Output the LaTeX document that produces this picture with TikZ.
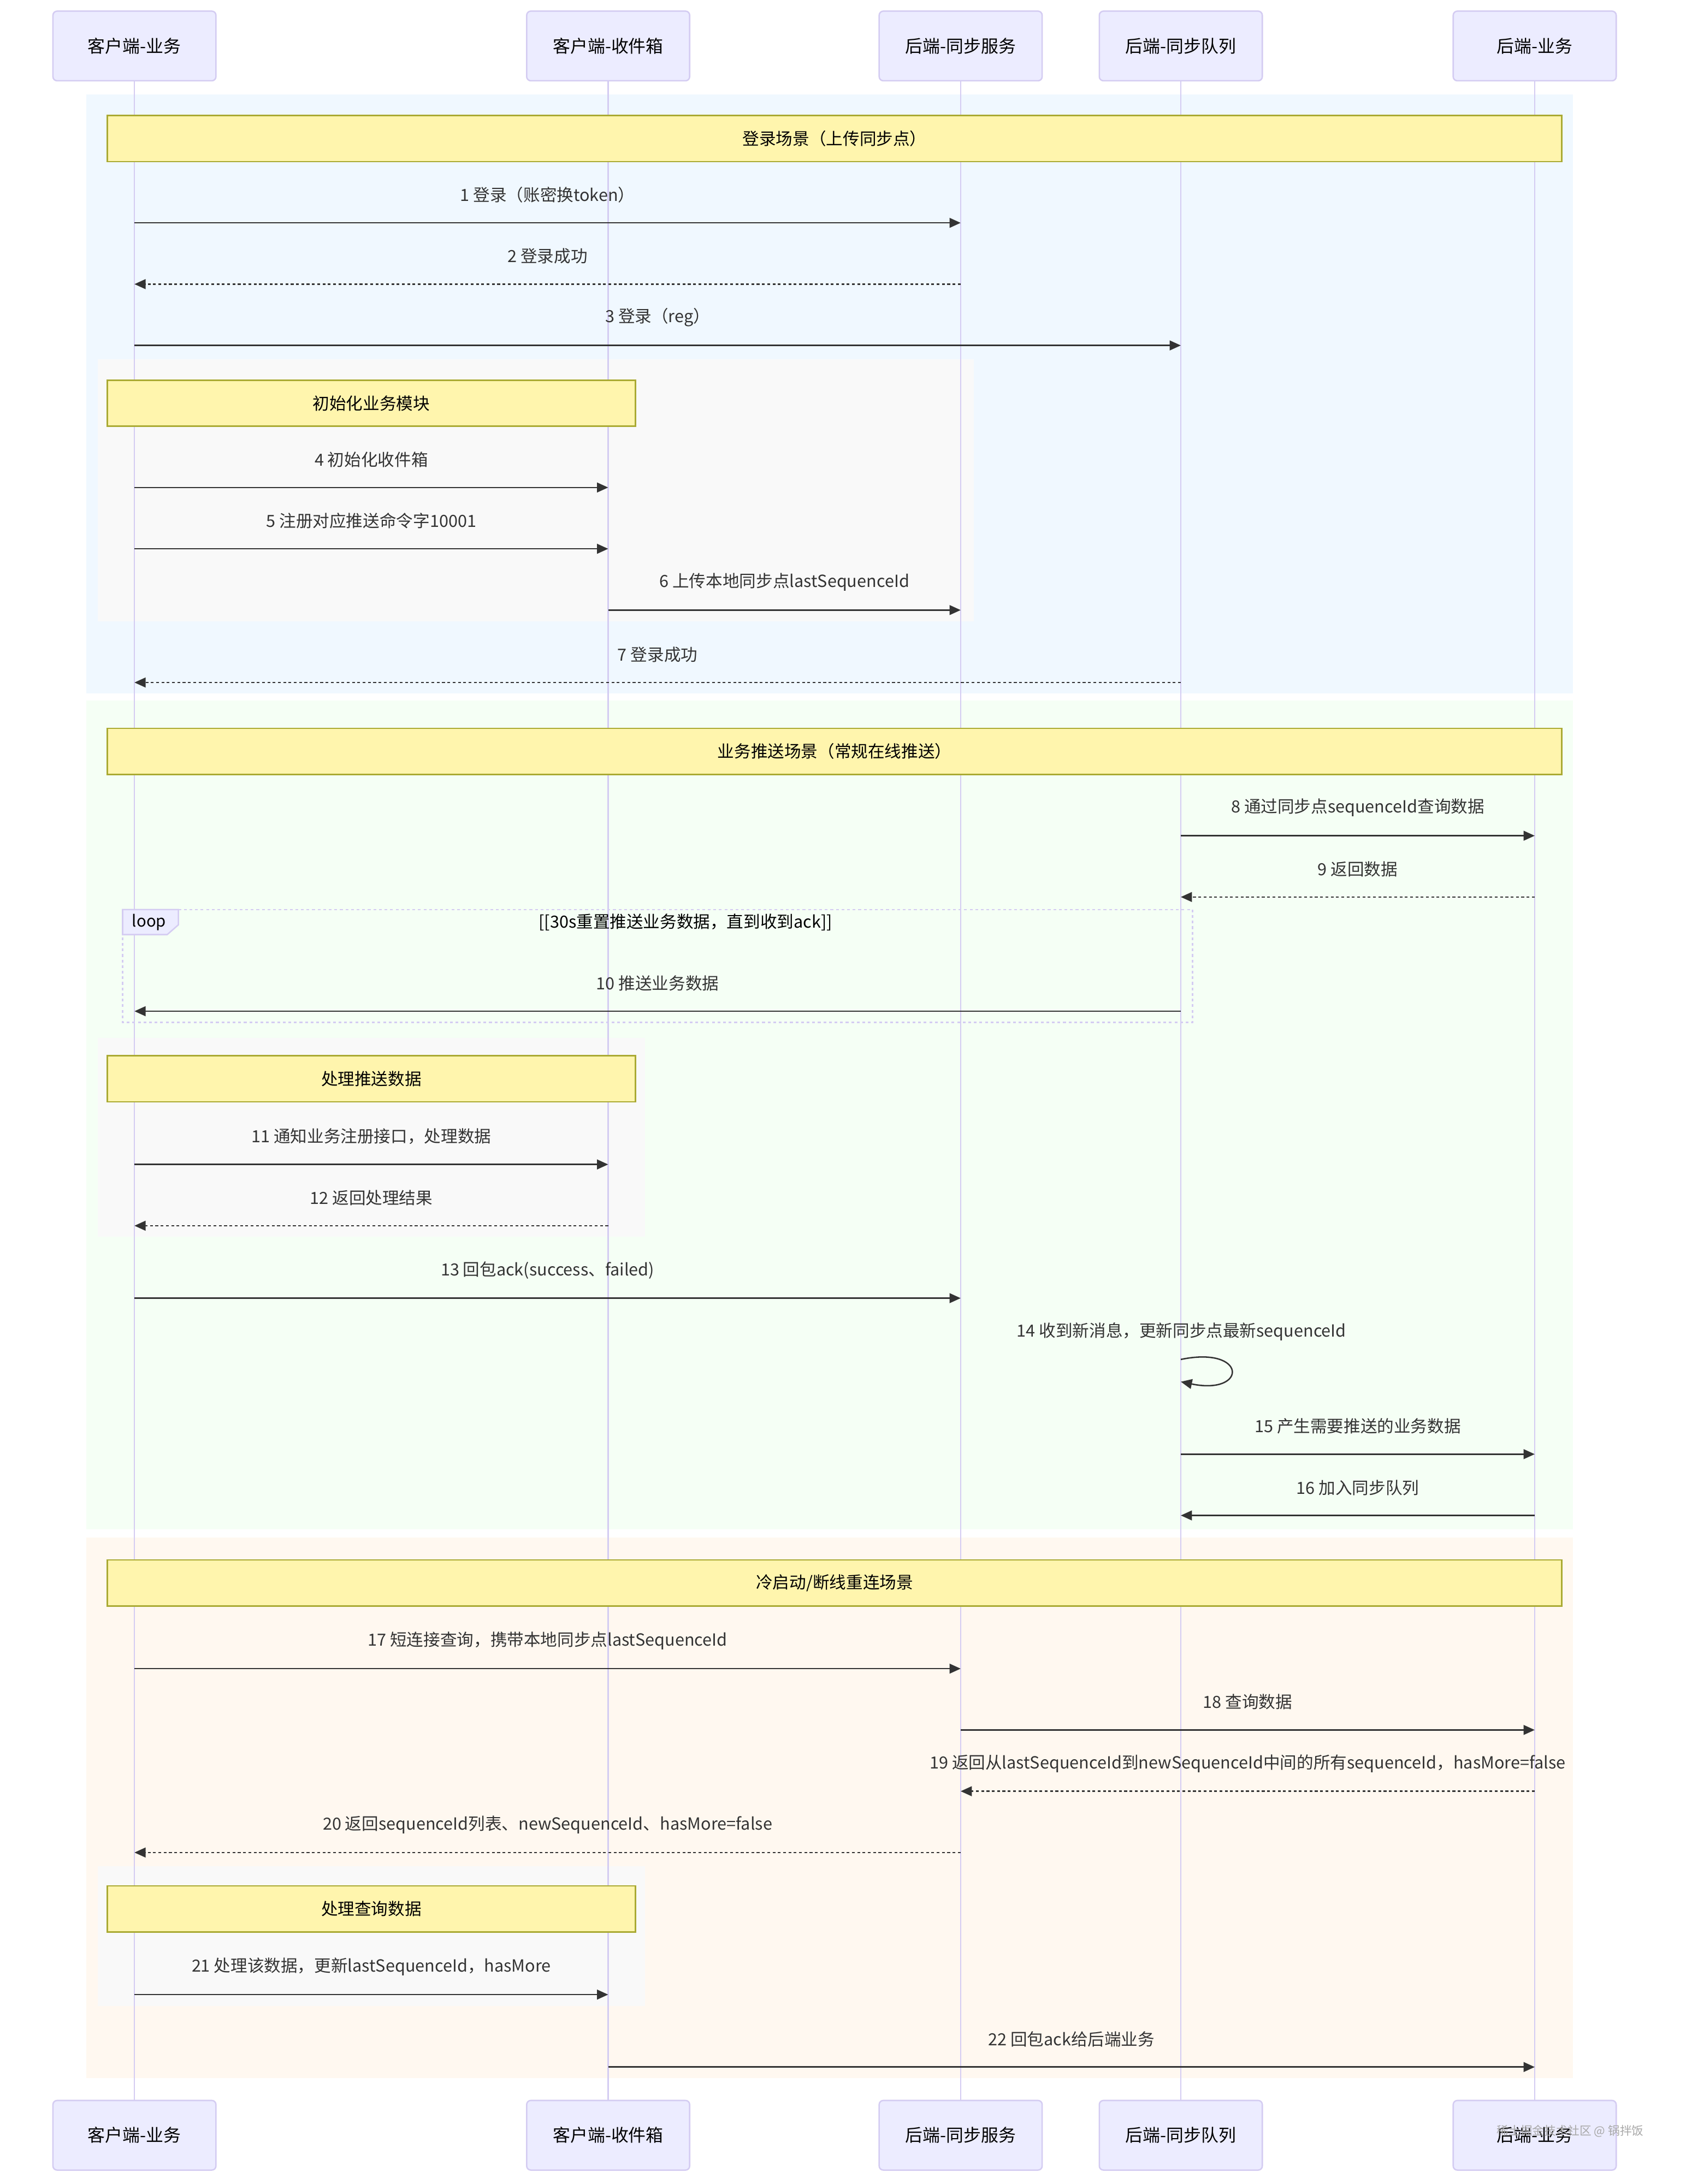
\documentclass[tikz,border=0pt]{standalone}
\usepackage{fontspec}
\setmainfont{Noto Sans CJK SC}
\usetikzlibrary{arrows.meta}
\definecolor{actfill}{HTML}{ECECFF}
\definecolor{actline}{HTML}{D4CCF2}
\definecolor{notefill}{HTML}{FFF5AD}
\definecolor{noteline}{HTML}{AAAA33}
\definecolor{msgc}{HTML}{333333}
\definecolor{rblue}{HTML}{F0F8FF}
\definecolor{rgreen}{HTML}{F5FFF5}
\definecolor{rorange}{HTML}{FFF8F0}
\definecolor{rgrey}{HTML}{F9F9F9}
\definecolor{wmc}{HTML}{A8A8A8}
\newcommand\seqmsg[5]{\draw[#4] (#1 |- 0,#3) -- node[lbl, yshift=20pt] {#5} (#2 |- 0,#3);}
\begin{document}
\begin{tikzpicture}[x=1pt,y=-1pt,
  actor/.style={draw=actline, fill=actfill, line width=1pt, rounded corners=3pt,
    minimum width=117pt, minimum height=50pt, inner sep=0pt, font=\fontsize{12.5}{15}\selectfont},
  life/.style={draw=actline, line width=1pt},
  note/.style={draw=noteline, fill=notefill, line width=1pt, minimum height=33pt, inner sep=0pt,
    font=\fontsize{12}{14}\selectfont},
  lbl/.style={text=msgc, inner sep=0pt, font=\fontsize{12}{14}\selectfont},
  msg/.style={draw=msgc, line width=1pt, -{Triangle[length=8pt,width=7pt]}},
  rmsg/.style={msg, dash pattern=on 2pt off 1.8pt},
  loopline/.style={draw=actline, line width=1pt, dash pattern=on 2pt off 2pt}]
\useasboundingbox (0,0) rectangle (1210,1568);
% background rects
\fill[rblue] (62,68) rectangle (1129,498);
\fill[rgrey] (70,258) rectangle (699,446);
\fill[rgreen] (62,503) rectangle (1129,1098);
\fill[rgrey] (70,745) rectangle (463,888);
\fill[rorange] (62,1104) rectangle (1129,1492);
\fill[rgrey] (70,1340) rectangle (463,1440);
% participants
\node[actor] (A) at (96.5,33) {客户端-业务};
\node[actor] (B) at (436.5,33) {客户端-收件箱};
\node[actor] (C) at (689.5,33) {后端-同步服务};
\node[actor] (D) at (847.5,33) {后端-同步队列};
\node[actor] (E) at (1101.5,33) {后端-业务};
\node[actor] (A2) at (96.5,1533) {客户端-业务};
\node[actor] (B2) at (436.5,1533) {客户端-收件箱};
\node[actor] (C2) at (689.5,1533) {后端-同步服务};
\node[actor] (D2) at (847.5,1533) {后端-同步队列};
\node[actor] (E2) at (1101.5,1533) {后端-业务};
\draw[life] (A) -- (A2);
\draw[life] (B) -- (B2);
\draw[life] (C) -- (C2);
\draw[life] (D) -- (D2);
\draw[life] (E) -- (E2);
% notes
\node[note, minimum width=1044pt] (n1) at (599,99.5) {登录场景（上传同步点）};
\node[note, minimum width=379pt] (n2) at (266.5,289.5) {初始化业务模块};
\node[note, minimum width=1044pt] (n3) at (599,539.5) {业务推送场景（常规在线推送）};
\node[note, minimum width=379pt] (n4) at (266.5,774.5) {处理推送数据};
\node[note, minimum width=1044pt] (n5) at (599,1136.5) {冷启动/断线重连场景};
\node[note, minimum width=379pt] (n6) at (266.5,1370.5) {处理查询数据};
% loop
\draw[loopline] (88,653) rectangle (856,734);
\draw[draw=actline, fill=actfill, line width=1pt] (88,653) -- (128,653) -- (128,664) -- (120,671) -- (88,671) -- cycle;
\node[lbl, text=black, font=\fontsize{11.5}{13}\selectfont] (lp) at (107,662) {loop};
\node[lbl, text=black] (lc) at (492,662) {[[30s重置推送业务数据，直到收到ack]]};
% messages
\seqmsg{A}{C}{160}{msg}{1 登录（账密换token）}
\seqmsg{C}{A}{204}{rmsg}{2 登录成功}
\seqmsg{A}{D}{248}{msg}{3 登录（reg）}
\seqmsg{A}{B}{350}{msg}{4 初始化收件箱}
\seqmsg{A}{B}{394}{msg}{5 注册对应推送命令字10001}
\seqmsg{B}{C}{438}{msg}{6 上传本地同步点lastSequenceId}
\seqmsg{D}{A}{490}{rmsg}{7 登录成功}
\seqmsg{D}{E}{600}{msg}{8 通过同步点sequenceId查询数据}
\seqmsg{E}{D}{644}{rmsg}{9 返回数据}
\seqmsg{D}{A}{726}{msg}{10 推送业务数据}
\seqmsg{A}{B}{836}{msg}{11 通知业务注册接口，处理数据}
\seqmsg{B}{A}{880}{rmsg}{12 返回处理结果}
\seqmsg{A}{C}{932}{msg}{13 回包ack(success、failed)}
\node[lbl] (m14) at (848,956) {14 收到新消息，更新同步点最新sequenceId};
\draw[msg] (D |- 0,976) .. controls +(48,-10) and +(48,10) .. (D |- 0,992);
\seqmsg{D}{E}{1044}{msg}{15 产生需要推送的业务数据}
\seqmsg{E}{D}{1088}{msg}{16 加入同步队列}
\seqmsg{A}{C}{1198}{msg}{17 短连接查询，携带本地同步点lastSequenceId}
\seqmsg{C}{E}{1242}{msg}{18 查询数据}
\seqmsg{E}{C}{1286}{rmsg}{19 返回从lastSequenceId到newSequenceId中间的所有sequenceId，hasMore=false}
\seqmsg{C}{A}{1330}{rmsg}{20 返回sequenceId列表、newSequenceId、hasMore=false}
\seqmsg{A}{B}{1432}{msg}{21 处理该数据，更新lastSequenceId，hasMore}
\seqmsg{B}{E}{1484}{msg}{22 回包ack给后端业务}
% watermark
\node[text=wmc, inner sep=0pt, font=\fontsize{8.5}{10}\selectfont] (wm) at (1127,1530) {稀土掘金技术社区 @ 锅拌饭};
\end{tikzpicture}
\end{document}
